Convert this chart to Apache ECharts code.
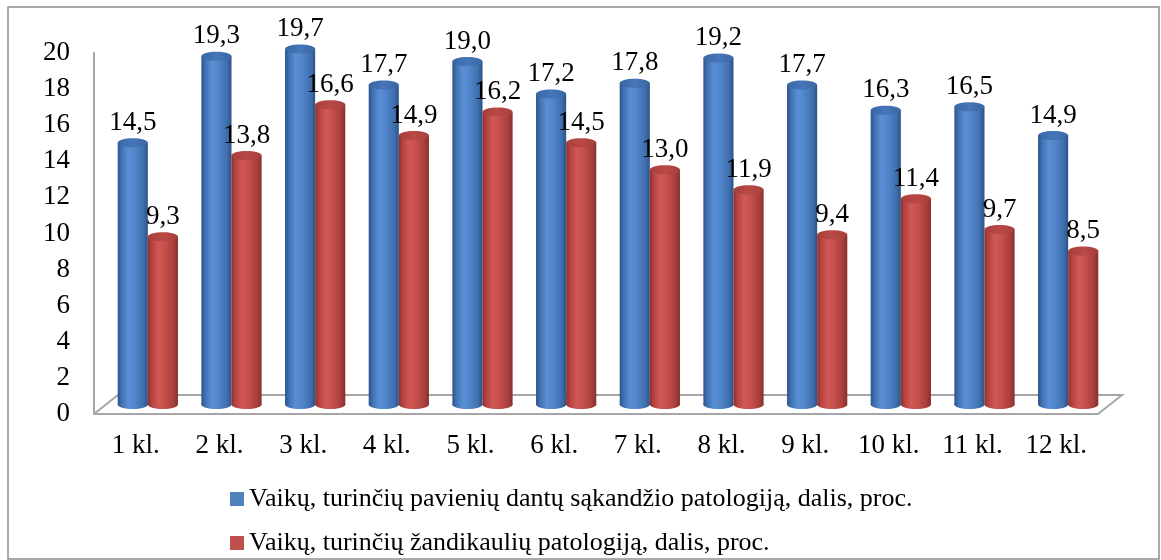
<!DOCTYPE html>
<html>
<head>
<meta charset="utf-8">
<script src="https://cdn.jsdelivr.net/npm/echarts@6/dist/echarts.min.js"></script>
<style>
html,body{margin:0;padding:0;background:#fff;}
#chart{width:1161px;height:560px;}
</style>
</head>
<body>
<div id="chart"></div>
<script>
const categories = ['1 kl.','2 kl.','3 kl.','4 kl.','5 kl.','6 kl.','7 kl.','8 kl.','9 kl.','10 kl.','11 kl.','12 kl.'];
const seriesNames = [
  'Vaikų, turinčių pavienių dantų sąkandžio patologiją, dalis, proc.',
  'Vaikų, turinčių žandikaulių patologiją, dalis, proc.'
];
const valuesTeeth = [14.5,19.3,19.7,17.7,19.0,17.2,17.8,19.2,17.7,16.3,16.5,14.9];
const valuesJaw = [9.3,13.8,16.6,14.9,16.2,14.5,13.0,11.9,9.4,11.4,9.7,8.5];
const yTicks = {min:0, max:20, interval:2};

const FONT = '"Liberation Serif","Times New Roman",serif';
const FS = 27;
const DEPTH_X = 24, DEPTH_Y = 19;

function grad(stops){
  return {type:'linear', x:0, y:0, x2:1, y2:0,
    colorStops: stops.map(s=>({offset:s[0], color:s[1]}))};
}
const blueBody = grad([[0,'#2b5287'],[0.12,'#3f6fb0'],[0.35,'#5a8fd5'],[0.55,'#5287cc'],[0.85,'#3f6fae'],[1,'#2c5288']]);
const blueTop = grad([[0,'#3a66a3'],[0.5,'#4677b9'],[1,'#3a66a3']]);
const redBody = grad([[0,'#8c2f2c'],[0.12,'#b3423f'],[0.35,'#d05855'],[0.55,'#c8504d'],[0.85,'#a83f3c'],[1,'#85302d']]);
const redTop = grad([[0,'#a63f3c'],[0.5,'#b94946'],[1,'#a63f3c']]);

function cylinder(off, body, topFill){
  return function(params, api){
    const i = api.value(0), v = api.value(1);
    const base = api.coord([i, 0]);
    const top = api.coord([i, v]);
    const band = api.size([1, 0])[0];
    const w = band * 0.36;
    const rx = w / 2, ry = 4.5;
    const cx = base[0] + DEPTH_X / 2 + off * w;
    const yb = base[1] - DEPTH_Y / 2;
    const yt = top[1] - DEPTH_Y / 2;
    return {
      type: 'group',
      children: [
        {type:'ellipse', shape:{cx:cx, cy:yb, rx:rx, ry:ry}, style:{fill:body}},
        {type:'rect', shape:{x:cx-rx, y:yt, width:w, height:yb-yt}, style:{fill:body}},
        {type:'ellipse', shape:{cx:cx, cy:yt, rx:rx, ry:ry}, style:{fill:topFill}},
        {type:'text', x:cx, y:yt-ry-2, style:{
          text: v.toFixed(1).replace('.', ','),
          align:'center', verticalAlign:'bottom',
          font: FS + 'px ' + FONT, fill:'#000'
        }}
      ]
    };
  };
}

function floor(params, api){
  const band = api.size([1, 0])[0];
  const a = api.coord([0, 0]);
  const b = api.coord([categories.length - 1, 0]);
  const L = a[0] - band / 2, R = b[0] + band / 2, y = a[1];
  return {
    type:'polyline',
    shape:{points:[[L, y], [L + DEPTH_X, y - DEPTH_Y], [R + DEPTH_X, y - DEPTH_Y], [R, y]]},
    style:{stroke:'#a6a6a6', lineWidth:2, fill:null}
  };
}

const legendBase = {
  orient:'vertical', left:230, padding:0,
  itemWidth:14, itemHeight:14, itemGap:5,
  icon:'rect',
  textStyle:{fontFamily:FONT, fontSize:26, color:'#000', lineHeight:30}
};

const chart = echarts.init(document.getElementById('chart'));
chart.setOption({
  backgroundColor:'#fff',
  animation:false,
  graphic:[{type:'rect', shape:{x:8, y:7, width:1151, height:552},
    style:{stroke:'#8f8f8f', lineWidth:1.5, fill:null}, z:-10}],
  grid:{left:94, right:63, top:53, bottom:146},
  legend:[
    Object.assign({}, legendBase, {top:484, data:[seriesNames[0]]}),
    Object.assign({}, legendBase, {top:528, data:[seriesNames[1]]})
  ],
  xAxis:{
    type:'category', data:categories,
    axisLine:{lineStyle:{color:'#a6a6a6', width:2}},
    axisTick:{show:false},
    axisLabel:{fontFamily:FONT, fontSize:FS, color:'#000', margin:18, interval:0}
  },
  yAxis:{
    type:'value', min:yTicks.min, max:yTicks.max, interval:yTicks.interval,
    axisLine:{show:true, lineStyle:{color:'#a6a6a6', width:2}},
    axisTick:{show:false},
    splitLine:{show:false},
    axisLabel:{fontFamily:FONT, fontSize:FS, color:'#000', margin:24}
  },
  series:[
    {type:'custom', name:'floor', renderItem:floor, data:[[0,0]], z:1, silent:true},
    {type:'custom', name:seriesNames[0], renderItem:cylinder(-0.5, blueBody, blueTop),
      itemStyle:{color:'#4f81bd'}, data:valuesTeeth.map((v,i)=>[i,v]), z:2},
    {type:'custom', name:seriesNames[1], renderItem:cylinder(0.5, redBody, redTop),
      itemStyle:{color:'#c0504d'}, data:valuesJaw.map((v,i)=>[i,v]), z:3}
  ]
});
</script>
</body>
</html>
